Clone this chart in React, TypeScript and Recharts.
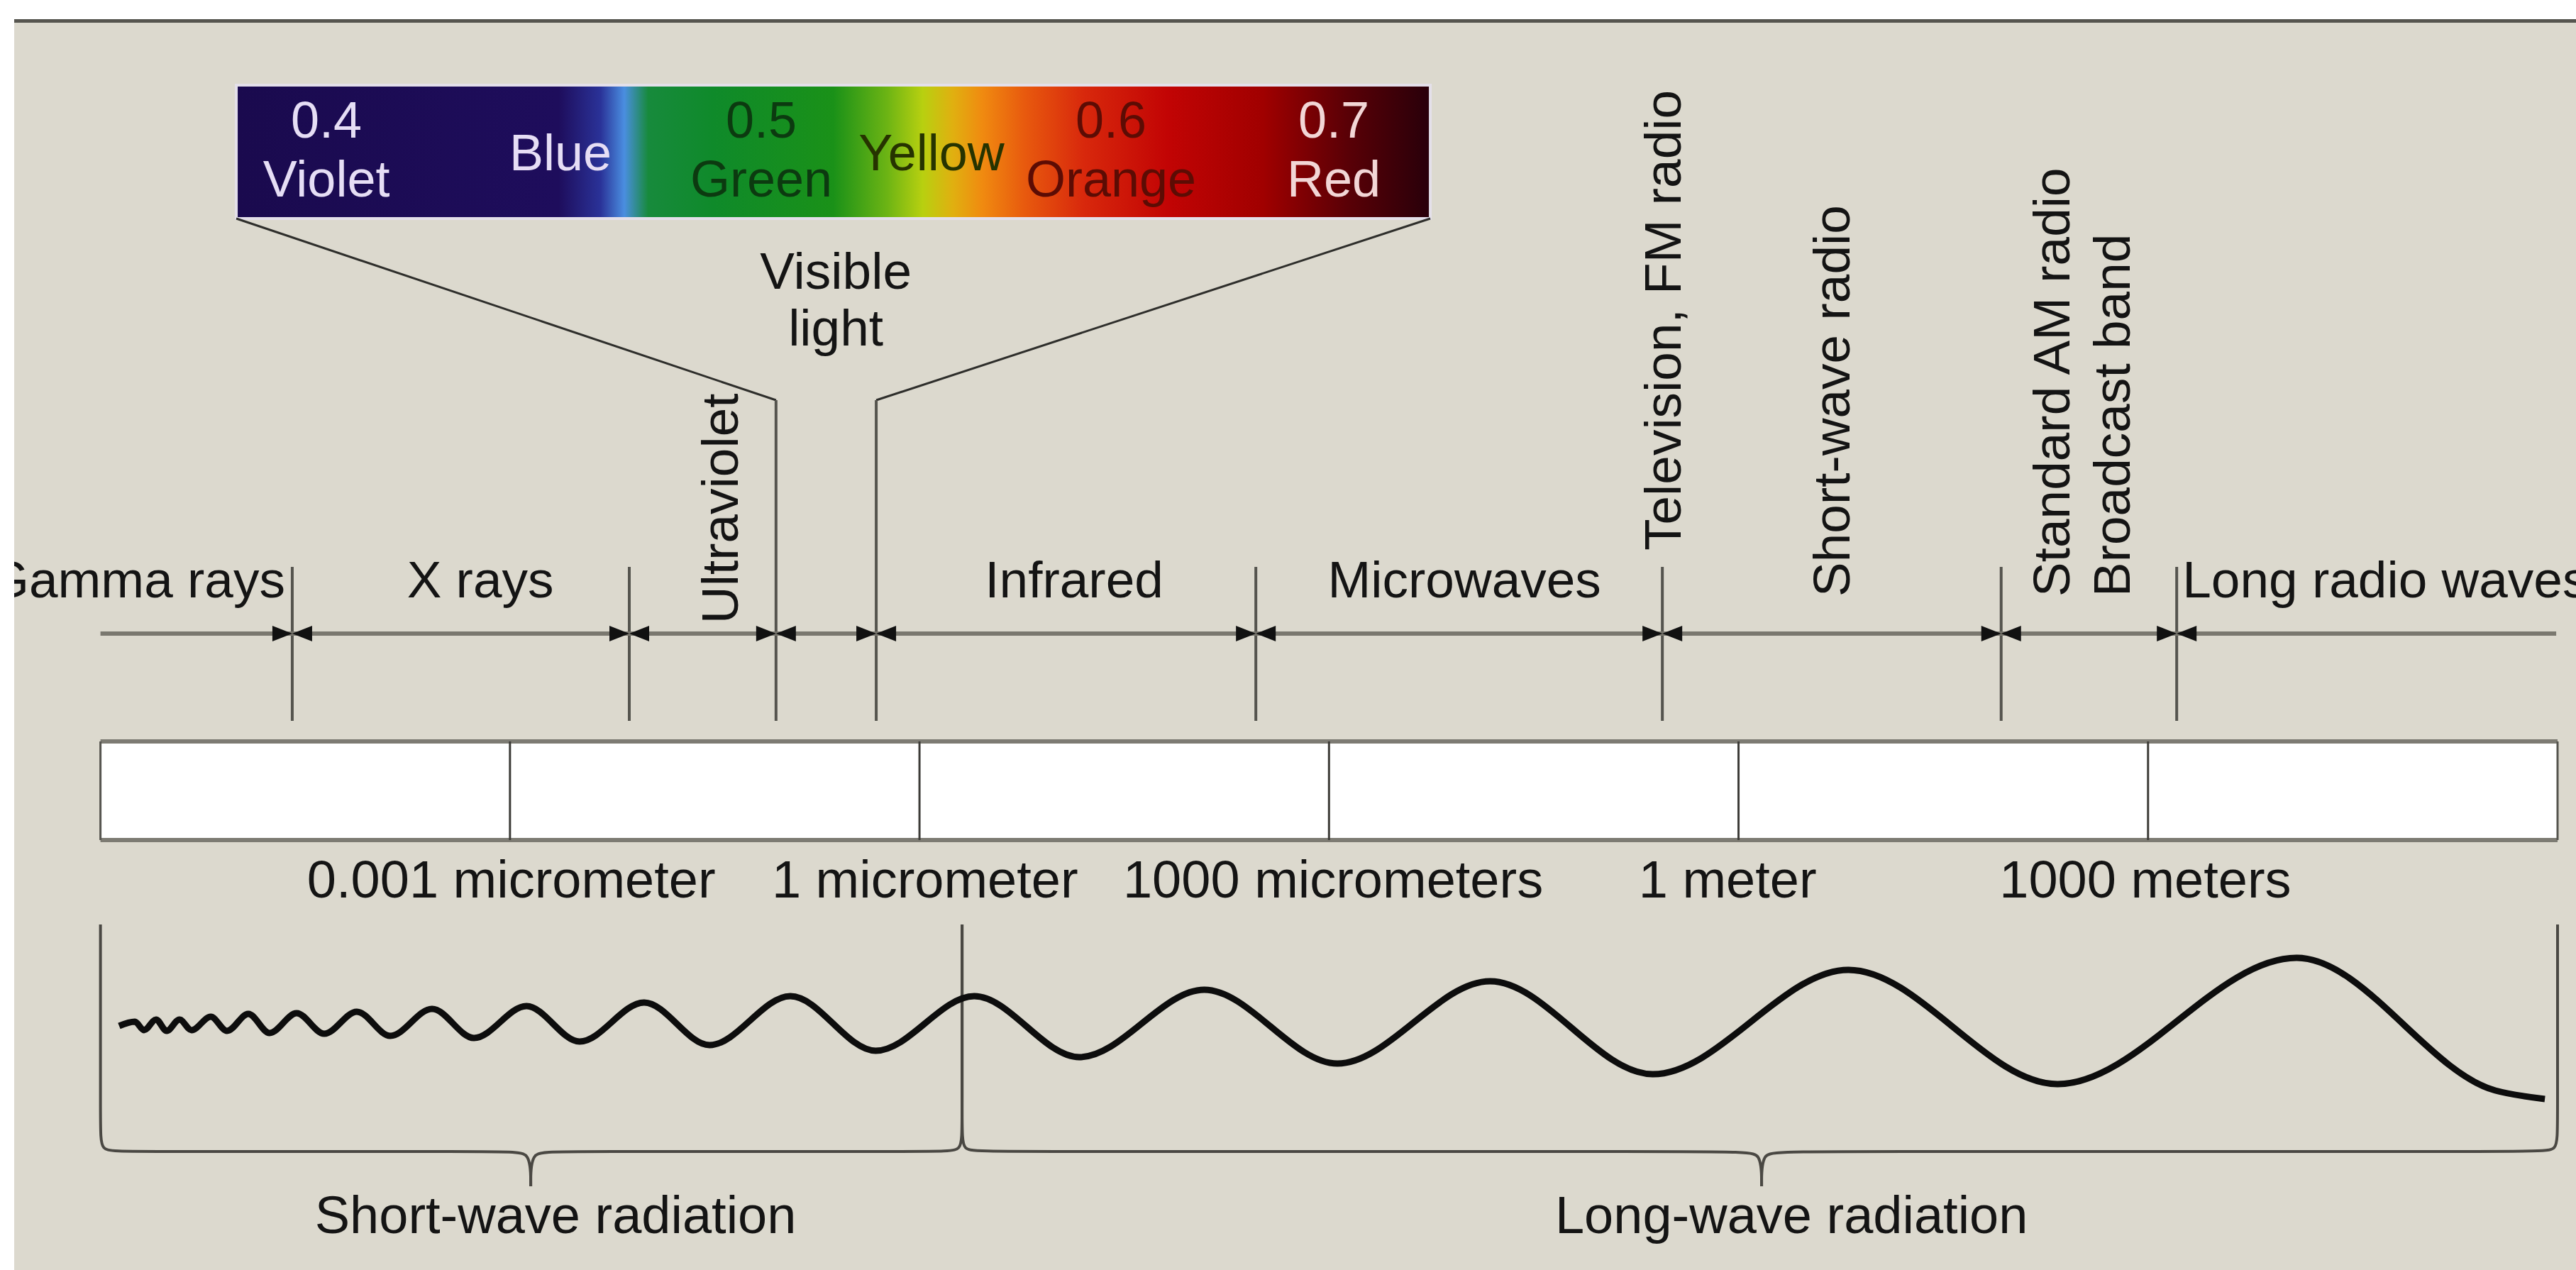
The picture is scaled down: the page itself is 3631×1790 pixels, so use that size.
import React from 'react';
import { ComposedChart, XAxis, YAxis, Line, Scatter, ReferenceArea, ReferenceLine } from 'recharts';

// x axis = log10 of the wavelength in metres, y axis = rows of the drawing (0 at the top)
const W = 3631;
const H = 1790;

// white scale bar: one cell per three decades
const scaleTicks = [-9, -6, -3, 0, 3];
const scaleLabels = ['0.001 micrometer', '1 micrometer', '1000 micrometers', '1 meter', '1000 meters'];
const scaleLabelAt = [-8.99, -5.96, -2.97, -0.08, 2.98];

// where one band ends and the next starts (log10 m)
const bandEdges = [-10.595, -8.126, -7.051, -6.317, -3.536, -0.558, 1.924, 3.21];

// band names written across
const bandNames = ['Gamma rays', 'X rays', 'Infrared', 'Microwaves', 'Long radio waves'];
const bandNameAt = [-10.647, -9.217, -4.867, -2.008, 3.252];

// band names written upwards
const sideNames = ['Ultraviolet', 'Television, FM radio', 'Short-wave radio', 'Standard AM radio', 'Broadcast band'];
const sideNameAt = [-7.466, -0.558, 0.679, 2.29, 2.727];

// blown-up visible band
const insetSpan = [-11.005, -2.258];
const visibleEdges = [-7.051, -6.317];
const visibleName = ['Visible', 'light'];
const visibleNameAt = -6.613;
const spectrumNums = ['0.4', '0.5', '0.6', '0.7'];
const spectrumColours = ['Violet', 'Green', 'Orange', 'Red'];
const spectrumNumAt = [-10.345, -7.159, -4.597, -2.965];
const spectrumMid = ['Blue', 'Yellow'];
const spectrumMidAt = [-8.63, -5.912];

// the wave: crests and troughs (plus the tail after the last crest)
const waveX = [
  -11.863, -11.748, -11.681, -11.593, -11.515, -11.421, -11.333, -11.192, -11.073, -10.917, -10.761,
  -10.563, -10.361, -10.122, -9.877, -9.571, -9.264, -8.879, -8.49, -8.017, -7.538, -6.946, -6.321,
  -5.599, -4.829, -3.914, -2.939, -1.82, -0.628, 0.805, 2.337, 4.089, 5.544, 5.907,
];
const waveY = [
  1446, 1440, 1452, 1437, 1453, 1437, 1452, 1433, 1453, 1429, 1456,
  1428, 1457, 1426, 1460, 1422, 1463, 1418, 1468, 1413, 1473, 1404, 1481,
  1404, 1490, 1395, 1499, 1383, 1514, 1367, 1528, 1350, 1537, 1549,
];

// braces underneath
const radiationNames = ['Short-wave radiation', 'Long-wave radiation'];
const radiationSpans = [[-12, -5.688], [-5.688, 6]];
const radiationTips = [-8.848, 0.169];
const radiationNameAt = [-8.666, 0.388];

// layout rows (drawing units)
const ROW = {
  insetTop: 120, insetBottom: 308, specNum: 194, specMid: 240, specName: 277,
  visible1: 407, visible2: 487, knee: 564,
  bandText: 842, tickTop: 799, arrow: 893, tickBottom: 1016,
  boxTop: 1045, boxBottom: 1184, scaleText: 1265,
  braceTop: 1303, braceKnee: 1590, brace: 1623, braceTip: 1672, radText: 1738,
};
const sideBottom: Record<string, number> = { Ultraviolet: 879, 'Television, FM radio': 776 };
const SIDE_DEFAULT_BOTTOM = 841;

const FONT = "'Liberation Sans', Arial, Helvetica, sans-serif";
const INK = '#141414';
const BG = '#dcd9ce';

const SPECTRUM_STOPS: [number, string][] = [
  [0, '#1a0a4e'], [0.27, '#1e0d5c'], [0.305, '#2a3298'], [0.325, '#4a8ee0'], [0.345, '#178a3c'],
  [0.4, '#0f8a2a'], [0.5, '#1a9118'], [0.545, '#6cb414'], [0.575, '#b8d010'], [0.6, '#e0b010'],
  [0.625, '#f08a10'], [0.66, '#e85a0e'], [0.71, '#d8280c'], [0.78, '#c20404'], [0.86, '#a00000'],
  [0.93, '#5a0006'], [1, '#28000a'],
];
const spectrumInk: Record<string, string> = {
  '0.4': '#e6def5', Violet: '#e6def5', Blue: '#e6def5',
  '0.5': '#0c3a10', Green: '#0c3a10', Yellow: '#263300',
  '0.6': '#5c0c04', Orange: '#5c0c04',
  '0.7': '#f2d6d6', Red: '#f2d6d6',
};
const bandAnchor: Record<string, string> = { 'Gamma rays': 'end', 'Long radio waves': 'start' };

type TextOpts = { size: number; rotate?: boolean; anchor?: (t: string) => string; fill?: (t: string) => string };
const makeText = (o: TextOpts) => (props: any) => {
  const { cx, cy, payload } = props;
  if (cx == null || cy == null) return null;
  return (
    <text
      x={cx}
      y={cy}
      dy={o.rotate ? '0.36em' : undefined}
      transform={o.rotate ? `rotate(-90 ${cx} ${cy})` : undefined}
      textAnchor={o.anchor ? o.anchor(payload.text) : 'middle'}
      fontFamily={FONT}
      fontSize={o.size}
      fill={o.fill ? o.fill(payload.text) : INK}
    >
      {payload.text}
    </text>
  );
};

const Bowtie = (props: any) => {
  const { cx, cy } = props;
  if (cx == null || cy == null) return null;
  const w = 28;
  const h = 11;
  return (
    <path
      d={`M${cx - w},${cy - h}L${cx},${cy}L${cx - w},${cy + h}Z M${cx + w},${cy - h}L${cx},${cy}L${cx + w},${cy + h}Z`}
      fill="#111"
    />
  );
};

const CORNER = 0.15;
const braceHalves = radiationSpans.flatMap(([l, r], i) => {
  const tip = radiationTips[i];
  const left = [
    { x: l, y: ROW.braceTop }, { x: l, y: ROW.braceKnee }, { x: l, y: ROW.brace },
    { x: l + CORNER, y: ROW.brace }, { x: tip - CORNER, y: ROW.brace }, { x: tip, y: ROW.brace },
    { x: tip, y: ROW.braceTip },
  ];
  const right = [
    { x: tip, y: ROW.braceTip }, { x: tip, y: ROW.brace }, { x: tip + CORNER, y: ROW.brace },
    { x: r - CORNER, y: ROW.brace }, { x: r, y: ROW.brace }, { x: r, y: ROW.braceKnee },
    { x: r, y: ROW.braceTop },
  ];
  return [left, right];
});

const waveData = waveX.map((x, i) => ({ x, y: waveY[i] }));
const bandData = bandNames.map((text, i) => ({ x: bandNameAt[i], y: ROW.bandText, text }));
const sideData = sideNames.map((text, i) => ({ x: sideNameAt[i], y: sideBottom[text] ?? SIDE_DEFAULT_BOTTOM, text }));
const scaleData = scaleLabels.map((text, i) => ({ x: scaleLabelAt[i], y: ROW.scaleText, text }));
const radiationData = radiationNames.map((text, i) => ({ x: radiationNameAt[i], y: ROW.radText, text }));
const edgeData = bandEdges.map((x) => ({ x, y: ROW.arrow }));
const spectrumData = [
  ...spectrumNums.map((text, i) => ({ x: spectrumNumAt[i], y: ROW.specNum, text })),
  ...spectrumColours.map((text, i) => ({ x: spectrumNumAt[i], y: ROW.specName, text })),
  ...spectrumMid.map((text, i) => ({ x: spectrumMidAt[i], y: ROW.specMid, text })),
];
const visibleData = [
  { x: visibleNameAt, y: ROW.visible1, text: visibleName[0] },
  { x: visibleNameAt, y: ROW.visible2, text: visibleName[1] },
];

const seg = (x1: number, y1: number, x2: number, y2: number) => [{ x: x1, y: y1 }, { x: x2, y: y2 }] as any;

export default function App() {
  const plainEdges = bandEdges.filter((e) => !visibleEdges.includes(e));
  return (
    <div style={{ position: 'absolute', left: 0, top: 0, width: W, height: H, background: BG, overflow: 'hidden' }}>
      <ComposedChart width={W} height={H} margin={{ top: 0, right: 26, bottom: 0, left: 141.6 }}>
        <defs>
          <linearGradient id="spectrum" x1="0" y1="0" x2="1" y2="0">
            {SPECTRUM_STOPS.map(([o, c]) => (
              <stop key={o} offset={o} stopColor={c} />
            ))}
          </linearGradient>
        </defs>
        <XAxis type="number" dataKey="x" domain={[-12, 6]} hide />
        <YAxis type="number" dataKey="y" domain={[0, H]} reversed hide />

        {/* visible-light inset */}
        <ReferenceArea x1={insetSpan[0]} x2={insetSpan[1]} y1={ROW.insetTop} y2={ROW.insetBottom}
          fill="url(#spectrum)" fillOpacity={1} stroke="#e4e0ea" strokeWidth={4} ifOverflow="visible" />

        {/* white scale bar */}
        <ReferenceArea x1={-12} x2={6} y1={ROW.boxTop} y2={ROW.boxBottom} fill="#ffffff" fillOpacity={1}
          stroke="none" ifOverflow="visible" />

        <ReferenceLine segment={seg(insetSpan[0], ROW.insetBottom, visibleEdges[0], ROW.knee)} stroke="#2e2e2b" strokeWidth={3} ifOverflow="visible" />
        <ReferenceLine segment={seg(insetSpan[1], ROW.insetBottom, visibleEdges[1], ROW.knee)} stroke="#2e2e2b" strokeWidth={3} ifOverflow="visible" />
        {visibleEdges.map((e) => (
          <ReferenceLine key={`v${e}`} segment={seg(e, ROW.knee, e, ROW.tickBottom)} stroke="#55544e" strokeWidth={4} ifOverflow="visible" />
        ))}
        {plainEdges.map((e) => (
          <ReferenceLine key={`t${e}`} segment={seg(e, ROW.tickTop, e, ROW.tickBottom)} stroke="#55544e" strokeWidth={4} ifOverflow="visible" />
        ))}

        <ReferenceLine segment={seg(-12, ROW.arrow, 5.99, ROW.arrow)} stroke="#7a786f" strokeWidth={6} ifOverflow="visible" />

        <ReferenceLine segment={seg(-12, ROW.boxTop, 6, ROW.boxTop)} stroke="#7d7b73" strokeWidth={6} ifOverflow="visible" />
        <ReferenceLine segment={seg(-12, ROW.boxBottom, 6, ROW.boxBottom)} stroke="#7d7b73" strokeWidth={6} ifOverflow="visible" />
        <ReferenceLine segment={seg(-12, ROW.boxTop, -12, ROW.boxBottom)} stroke="#55544e" strokeWidth={3} ifOverflow="visible" />
        <ReferenceLine segment={seg(6, ROW.boxTop, 6, ROW.boxBottom)} stroke="#55544e" strokeWidth={3} ifOverflow="visible" />
        {scaleTicks.map((t) => (
          <ReferenceLine key={`s${t}`} segment={seg(t, ROW.boxTop, t, ROW.boxBottom)} stroke="#3d3c38" strokeWidth={3} ifOverflow="visible" />
        ))}

        {braceHalves.map((pts, i) => (
          <Line key={`b${i}`} data={pts} dataKey="y" type="basis" stroke="#4a4843" strokeWidth={4}
            dot={false} activeDot={false} isAnimationActive={false} />
        ))}

        <Line data={waveData} dataKey="y" type="monotoneX" stroke="#0d0d0d" strokeWidth={9}
          dot={false} activeDot={false} isAnimationActive={false} />

        <Scatter data={edgeData} dataKey="y" shape={Bowtie} isAnimationActive={false} />
        <Scatter data={spectrumData} dataKey="y" isAnimationActive={false}
          shape={makeText({ size: 72, fill: (t) => spectrumInk[t] ?? INK })} />
        <Scatter data={visibleData} dataKey="y" isAnimationActive={false} shape={makeText({ size: 73 })} />
        <Scatter data={bandData} dataKey="y" isAnimationActive={false}
          shape={makeText({ size: 73, anchor: (t) => bandAnchor[t] ?? 'middle' })} />
        <Scatter data={sideData} dataKey="y" isAnimationActive={false}
          shape={makeText({ size: 73, rotate: true, anchor: () => 'start' })} />
        <Scatter data={scaleData} dataKey="y" isAnimationActive={false} shape={makeText({ size: 74 })} />
        <Scatter data={radiationData} dataKey="y" isAnimationActive={false} shape={makeText({ size: 74 })} />
      </ComposedChart>
      <div style={{ position: 'absolute', left: 0, top: 0, width: W, height: 27, background: '#ffffff' }} />
      <div style={{ position: 'absolute', left: 20, top: 27, width: W - 20, height: 5, background: '#56554f' }} />
      <div style={{ position: 'absolute', left: 0, top: 0, width: 20, height: H, background: '#ffffff' }} />
    </div>
  );
}
